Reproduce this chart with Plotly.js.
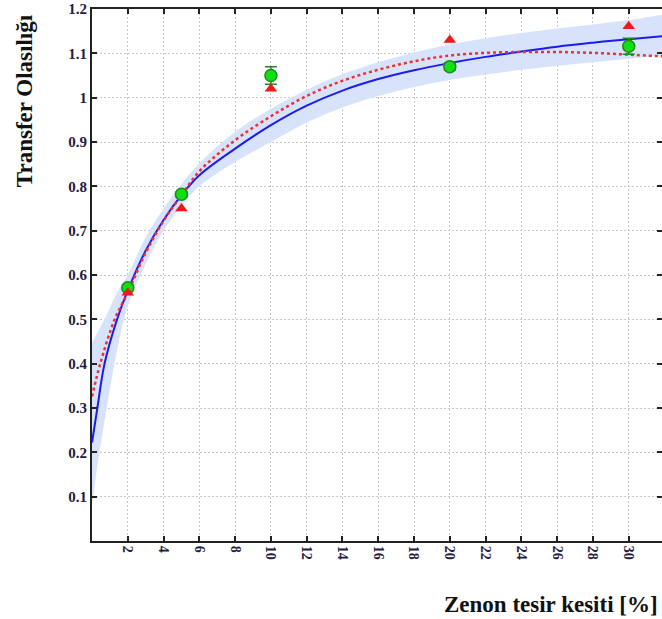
<!DOCTYPE html>
<html>
<head>
<meta charset="utf-8">
<script src="https://cdn.plot.ly/plotly-3.0.1.min.js"></script>
<style>html,body{margin:0;padding:0;background:#fff;}#chart{width:662px;height:619px;}</style>
</head>
<body>
<div id="chart"></div>
<script>
// Measured points
const dataX = [2, 5, 10, 20, 30];
const greenY = [0.571, 0.782, 1.050, 1.070, 1.116];
const greenErr = [0.006, 0.006, 0.020, 0.008, 0.018];
const redY = [0.560, 0.750, 1.020, 1.130, 1.161];

// Blue fit curve
const fitX = [0, 0.3, 0.7, 1.4, 2, 3, 4, 5, 6, 8, 10, 12, 14, 16, 18, 20, 22, 24, 26, 28, 30, 32];
const blueY = [0.222, 0.300, 0.400, 0.500, 0.565, 0.655, 0.724, 0.780, 0.825, 0.885, 0.938, 0.982, 1.016, 1.042, 1.062, 1.078, 1.092, 1.104, 1.115, 1.124, 1.132, 1.139];
const bandUpper = [0.447, 0.470, 0.500, 0.560, 0.600, 0.685, 0.750, 0.805, 0.852, 0.923, 0.975, 1.018, 1.053, 1.080, 1.102, 1.120, 1.134, 1.146, 1.156, 1.165, 1.175, 1.188];
const bandLower = [0.080, 0.170, 0.270, 0.430, 0.530, 0.625, 0.700, 0.755, 0.800, 0.855, 0.900, 0.944, 0.978, 1.004, 1.024, 1.040, 1.052, 1.063, 1.072, 1.080, 1.088, 1.095];

// Red dotted curve
const redFitX = [0, 0.46, 1.27, 2, 3, 4, 5, 6, 8, 10, 12, 14, 16, 18, 20, 22, 24, 26, 28, 30, 32];
const redFitY = [0.326, 0.400, 0.500, 0.560, 0.650, 0.722, 0.780, 0.834, 0.904, 0.958, 1.004, 1.038, 1.063, 1.082, 1.095, 1.101, 1.103, 1.103, 1.101, 1.097, 1.093];

// Ticks
const xTicks = [2, 4, 6, 8, 10, 12, 14, 16, 18, 20, 22, 24, 26, 28, 30];
const yTicks = [0.1, 0.2, 0.3, 0.4, 0.5, 0.6, 0.7, 0.8, 0.9, 1, 1.1, 1.2];
const yTickText = ['0.1', '0.2', '0.3', '0.4', '0.5', '0.6', '0.7', '0.8', '0.9', '1', '1.1', '1.2'];

const traces = [
  {x: fitX, y: bandLower, mode: 'lines', line: {width: 0, shape: 'spline', color: 'rgba(0,0,0,0)'}, hoverinfo: 'skip', showlegend: false},
  {x: fitX, y: bandUpper, mode: 'lines', fill: 'tonexty', fillcolor: '#d6e3fb', line: {width: 0, shape: 'spline', color: 'rgba(0,0,0,0)'}, hoverinfo: 'skip', showlegend: false},
  {x: fitX, y: blueY, mode: 'lines', line: {color: '#1c1cf0', width: 2, shape: 'spline'}, showlegend: false},
  {x: redFitX, y: redFitY, mode: 'lines', line: {color: '#f03030', width: 2.5, dash: 'dot', shape: 'spline'}, showlegend: false},
  {x: dataX, y: greenY, mode: 'markers', marker: {symbol: 'circle', size: 12, color: '#10e010', line: {color: '#1f8a1f', width: 1.5}},
   error_y: {type: 'data', array: greenErr, visible: true, color: '#1f8a1f', thickness: 1.5, width: 6}, showlegend: false},
  {x: dataX, y: redY, mode: 'markers', marker: {symbol: 'triangle-up', size: 11, color: '#f01818', line: {width: 0}}, showlegend: false}
];

const tickFont = {family: 'Liberation Serif, Times New Roman, serif', size: 15, color: '#1f2040', weight: 'bold'};

const layout = {
  width: 662, height: 619,
  margin: {l: 92, r: 0, t: 9, b: 78, pad: 0},
  paper_bgcolor: '#ffffff', plot_bgcolor: '#ffffff',
  showlegend: false,
  xaxis: {
    range: [0, 31.86], tickvals: xTicks, ticktext: xTicks.map(String), tickangle: 90,
    ticks: 'inside', ticklen: 5, tickwidth: 2, tickcolor: '#222',
    showline: true, linecolor: '#222', linewidth: 2, mirror: 'ticks',
    showgrid: true, gridcolor: '#c8c8c8', gridwidth: 1, griddash: '2px,2px',
    zeroline: false, tickfont: {family: 'Liberation Serif, Times New Roman, serif', size: 14, color: '#1f2040', weight: 'bold'}
  },
  yaxis: {
    range: [0, 1.2], tickvals: yTicks, ticktext: yTickText,
    ticks: 'inside', ticklen: 5, tickwidth: 2, tickcolor: '#222',
    showline: true, linecolor: '#222', linewidth: 2, mirror: 'ticks',
    showgrid: true, gridcolor: '#c8c8c8', gridwidth: 1, griddash: '2px,2px',
    zeroline: false, tickfont: tickFont
  },
  annotations: [
    {text: '<b>Zenon tesir kesiti [%]</b>', xref: 'paper', yref: 'paper', x: 1, y: -0.119, xanchor: 'right', yanchor: 'middle', xshift: -2, showarrow: false,
     font: {family: 'Liberation Serif, Times New Roman, serif', size: 23, color: '#111'}},
    {text: '<b>Transfer Olasılığı</b>', xref: 'paper', yref: 'paper', x: -0.119, y: 0.827, xanchor: 'center', yanchor: 'middle', textangle: -90, showarrow: false,
     font: {family: 'Liberation Serif, Times New Roman, serif', size: 23, color: '#111'}}
  ]
};

Plotly.newPlot('chart', traces, layout, {displayModeBar: false, staticPlot: true});
</script>
</body>
</html>
